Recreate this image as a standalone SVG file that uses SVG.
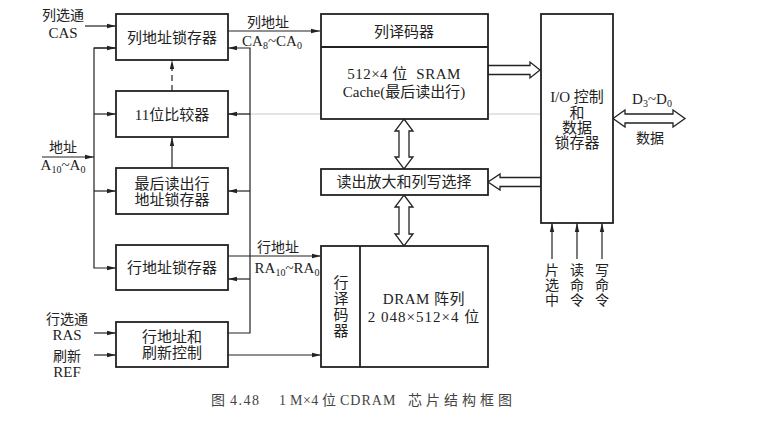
<svg xmlns="http://www.w3.org/2000/svg" width="764" height="426" viewBox="0 0 764 426">
<defs>
<marker id="ah" markerWidth="10" markerHeight="6" refX="9" refY="3" orient="auto" markerUnits="userSpaceOnUse">
<path d="M0,0.8 L9,3 L0,5.2 Z" fill="#222"/>
</marker>
</defs>
<style>
.box{fill:#fff;stroke:#222;stroke-width:1.8}
.ln{fill:none;stroke:#222;stroke-width:1.2}
.dash{fill:none;stroke:#222;stroke-width:1.2;stroke-dasharray:6,4}
.faint{fill:none;stroke:#bbb;stroke-width:0.8}
.ho{fill:#fff;stroke:#222;stroke-width:1.3;stroke-linejoin:miter}
text{font-family:"Liberation Serif","Noto Sans CJK SC",serif;font-size:14px;fill:#222}
.b{font-size:15px}
.c{text-anchor:middle}
.sub{font-size:10px}
.cap{font-size:14px;fill:#444}
</style>
<rect width="764" height="426" fill="#fff"/>

<g id="connectors">
<line class="faint" x1="228" y1="114" x2="541" y2="114"/>
<line class="ln" x1="85" y1="26" x2="116" y2="26" marker-end="url(#ah)"/>
<line class="ln" x1="42" y1="157" x2="94" y2="157" marker-end="url(#ah)"/>
<polyline class="ln" points="116,48 94,48 94,268 116,268" marker-end="url(#ah)"/>
<line class="ln" x1="94" y1="114" x2="116" y2="114" marker-end="url(#ah)"/>
<line class="ln" x1="94" y1="191" x2="116" y2="191" marker-end="url(#ah)"/>
<line class="ln" x1="94" y1="48" x2="116" y2="48" marker-end="url(#ah)"/>
<polyline class="ln" points="228,333 250,333 250,48 228,48" marker-end="url(#ah)"/>
<line class="ln" x1="250" y1="114" x2="228" y2="114" marker-end="url(#ah)"/>
<line class="ln" x1="250" y1="191" x2="228" y2="191" marker-end="url(#ah)"/>
<line class="ln" x1="250" y1="279" x2="228" y2="279" marker-end="url(#ah)"/>
<line class="dash" x1="172" y1="91" x2="172" y2="60" marker-end="url(#ah)"/>
<line class="ln" x1="172" y1="168" x2="172" y2="137" marker-end="url(#ah)"/>
<line class="ln" x1="228" y1="31" x2="320" y2="31" marker-end="url(#ah)"/>
<line class="ln" x1="228" y1="256" x2="321" y2="256" marker-end="url(#ah)"/>
<line class="ln" x1="228" y1="355" x2="321" y2="355" marker-end="url(#ah)"/>
<line class="ln" x1="94" y1="333" x2="116" y2="333" marker-end="url(#ah)"/>
<line class="ln" x1="94" y1="355" x2="116" y2="355" marker-end="url(#ah)"/>
<line class="ln" x1="552" y1="259" x2="552" y2="223" marker-end="url(#ah)"/>
<line class="ln" x1="577" y1="259" x2="577" y2="223" marker-end="url(#ah)"/>
<line class="ln" x1="602" y1="259" x2="602" y2="223" marker-end="url(#ah)"/>
<polygon class="ho" points="404,119 413,131 409,131 409,157 413,157 404,169 395,157 399,157 399,131 395,131"/>
<polygon class="ho" points="404,195 413,207 409,207 409,234 413,234 404,246 395,234 399,234 399,207 395,207"/>
<polygon class="ho" points="488,65.5 530,65.5 530,62 540,70 530,78 530,74.5 488,74.5"/>
<polygon class="ho" points="541,177.5 500,177.5 500,174 488,182 500,190 500,186.5 541,186.5"/>
<polygon class="ho" points="613,118.5 625,110 625,114 673,114 673,110 685,118.5 673,127 673,123 625,123 625,127"/>
</g>

<g id="n-cas-latch">
<rect class="box" x="116" y="14" width="112" height="46"/>
<text class="c b" x="172" y="43">列地址锁存器</text>
</g>
<g id="n-comparator">
<rect class="box" x="116" y="91" width="112" height="46"/>
<text class="c b" x="172" y="120">11位比较器</text>
</g>
<g id="n-last-row-latch">
<rect class="box" x="116" y="168" width="112" height="46"/>
<text class="c b" x="172" y="189">最后读出行</text>
<text class="c b" x="172" y="205">地址锁存器</text>
</g>
<g id="n-row-latch">
<rect class="box" x="116" y="245" width="112" height="45"/>
<text class="c b" x="172" y="273">行地址锁存器</text>
</g>
<g id="n-refresh">
<rect class="box" x="116" y="322" width="112" height="45"/>
<text class="c b" x="172" y="342">行地址和</text>
<text class="c b" x="172" y="358">刷新控制</text>
</g>
<g id="n-sram">
<rect class="box" x="321" y="14" width="167" height="105"/>
<line class="box" x1="321" y1="47" x2="488" y2="47"/>
<text class="c b" x="404" y="37">列译码器</text>
<text class="c b" x="404" y="79" xml:space="preserve" letter-spacing="0.5">512×4 位  SRAM</text>
<text class="c b" x="404" y="97">Cache(最后读出行)</text>
</g>
<g id="n-sense">
<rect class="box" x="321" y="169" width="167" height="26"/>
<text class="c b" x="404" y="187">读出放大和列写选择</text>
</g>
<g id="n-dram">
<rect class="box" x="321" y="246" width="167" height="121"/>
<line class="box" x1="360" y1="246" x2="360" y2="367"/>
<text class="c b" x="341" y="288">行</text>
<text class="c b" x="341" y="304">译</text>
<text class="c b" x="341" y="320">码</text>
<text class="c b" x="341" y="336">器</text>
<text class="c b" x="424" y="304" letter-spacing="0.5">DRAM 阵列</text>
<text class="c b" x="424" y="322" letter-spacing="1">2 048×512×4 位</text>
</g>
<g id="n-io">
<rect class="box" x="541" y="14" width="72" height="209"/>
<text class="c b" x="577" y="102">I/O 控制</text>
<text class="c b" x="577" y="118">和</text>
<text class="c b" x="577" y="133">数据</text>
<text class="c b" x="577" y="148">锁存器</text>
</g>

<g id="labels">
<text class="c" x="63" y="20">列选通</text>
<text class="c b" x="63" y="38">CAS</text>
<text class="c" x="63" y="152">地址</text>
<text class="c b" x="63" y="170">A<tspan class="sub" dy="3">10</tspan><tspan dy="-3">~A</tspan><tspan class="sub" dy="3">0</tspan></text>
<text class="c" x="67" y="324">行选通</text>
<text class="c b" x="67" y="340">RAS</text>
<text class="c" x="67" y="361">刷新</text>
<text class="c b" x="67" y="377">REF</text>
<text class="c" x="268" y="27">列地址</text>
<text class="c b" x="272" y="46">CA<tspan class="sub" dy="3">8</tspan><tspan dy="-3">~CA</tspan><tspan class="sub" dy="3">0</tspan></text>
<text class="c" x="278" y="252">行地址</text>
<text class="c b" x="287" y="273">RA<tspan class="sub" dy="3">10</tspan><tspan dy="-3">~RA</tspan><tspan class="sub" dy="3">0</tspan></text>
<text class="c b" x="652" y="104">D<tspan class="sub" dy="3">3</tspan><tspan dy="-3">~D</tspan><tspan class="sub" dy="3">0</tspan></text>
<text class="c" x="650" y="143">数据</text>
<text class="c" x="552" y="275">片</text>
<text class="c" x="552" y="290">选</text>
<text class="c" x="552" y="305">中</text>
<text class="c" x="577" y="275">读</text>
<text class="c" x="577" y="290">命</text>
<text class="c" x="577" y="305">令</text>
<text class="c" x="602" y="275">写</text>
<text class="c" x="602" y="290">命</text>
<text class="c" x="602" y="305">令</text>
<text class="cap" y="405"><tspan x="211">图</tspan><tspan x="230" letter-spacing="1.5">4.48</tspan><tspan x="279">1</tspan><tspan x="290" letter-spacing="0.5">M×4</tspan><tspan x="322">位</tspan><tspan x="340" letter-spacing="1">CDRAM</tspan><tspan x="408" letter-spacing="4">芯片结构框图</tspan></text>
</g>
</svg>
